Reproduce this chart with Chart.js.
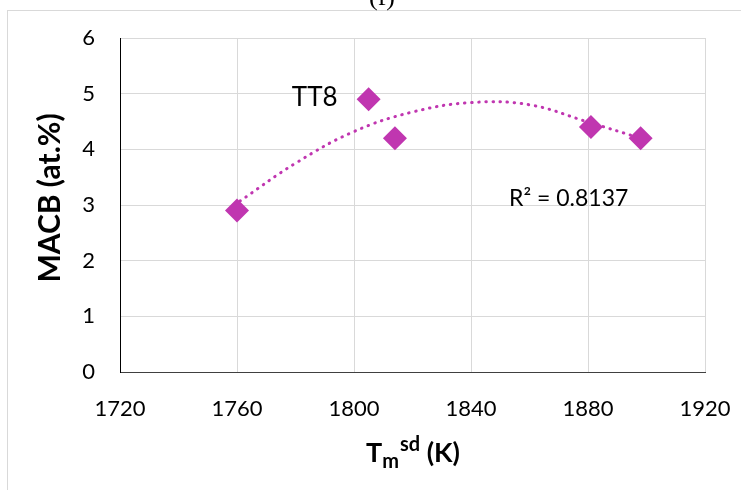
<!DOCTYPE html>
<html>
<head>
<meta charset="utf-8">
<script src="https://cdn.jsdelivr.net/npm/chart.js@4.4.1/dist/chart.umd.min.js"></script>
<style>
  html, body { margin: 0; padding: 0; background: #fff; }
  canvas { display: block; }
</style>
</head>
<body>
<canvas id="mycanvas" width="741" height="490"></canvas>
<script>
// measured points (Tm_sd in K, MACB in at.%)
var tempK = [1760, 1805, 1814, 1881, 1898];
var macb = [2.9, 4.9, 4.2, 4.4, 4.2];
// poly trendline
var trendK = [1761, 1780, 1800, 1820, 1840, 1860, 1880, 1898];
var trendMacb = [3.07, 3.75, 4.32, 4.67, 4.84, 4.80, 4.49, 4.20];
var xTicks = [1720, 1760, 1800, 1840, 1880, 1920];
var yTicks = [0, 1, 2, 3, 4, 5, 6];
var pointLabel = 'TT8';
var r2Text = 'R² = 0.8137';

var MAGENTA = '#C036B0';
var GRID = '#d9d9d9';
var FONT = 'Lato, Carlito, "Open Sans", sans-serif';

var points = [];
for (var i in tempK) points.push({x: tempK[i], y: macb[i]});
var trend = [];
for (var j in trendK) trend.push({x: trendK[j], y: trendMacb[j]});

// extra texts: frame, caption, point label, R², axis titles
var textPlugin = {
	id: 'texts',
	beforeDraw: function(chart) {
		var c = chart.ctx;
		c.save();
		c.fillStyle = '#fff';
		c.fillRect(0, 0, chart.width, chart.height);
		c.strokeStyle = GRID;
		c.lineWidth = 1;
		c.strokeRect(7.5, 10.5, 800, 600);
		c.restore();
	},
	afterDraw: function(chart) {
		var c = chart.ctx;
		var xs = chart.scales.x, ys = chart.scales.y;
		c.save();
		c.fillStyle = '#000';
		c.textBaseline = 'alphabetic';

		// cut caption at the top
		c.font = '26px "Liberation Serif", serif';
		c.textAlign = 'center';
		c.fillText('(f)', 382, 5);

		// TT8 label beside its point
		c.font = '26px ' + FONT;
		c.textAlign = 'right';
		c.fillText(pointLabel, xs.getPixelForValue(tempK[1]) - 31, ys.getPixelForValue(macb[1]) + 7);

		// R squared
		c.font = '23px ' + FONT;
		c.textAlign = 'left';
		c.fillText(r2Text, xs.getPixelForValue(1853), ys.getPixelForValue(2.98));

		// y title
		c.save();
		c.translate(50, 198);
		c.rotate(-Math.PI / 2);
		c.font = 'bold 30px ' + FONT;
		c.textAlign = 'center';
		c.textBaseline = 'middle';
		c.fillText('MACB (at.%)', 0, 0);
		c.restore();

		// x title  T_m^sd (K)
		c.textAlign = 'left';
		var x = 366;
		c.font = 'bold 27px ' + FONT;
		c.fillText('T', x, 462);
		x += c.measureText('T').width;
		c.font = 'bold 20px ' + FONT;
		c.fillText('m', x, 468);
		var xm = x + c.measureText('m').width;
		c.fillText('sd', xm + 1, 451);
		x = xm + 1 + c.measureText('sd').width;
		c.font = 'bold 27px ' + FONT;
		c.fillText(' (K)', x, 462);
		c.restore();
	}
};

var ctx = document.getElementById('mycanvas');

var chart = new Chart(ctx, {
	type: 'scatter',
	data: {
		datasets: [
			{
				label: 'MACB',
				data: points,
				pointStyle: 'rectRot',
				pointRadius: 12,
				pointHoverRadius: 12,
				backgroundColor: MAGENTA,
				borderWidth: 0,
				order: 1
			},
			{
				label: 'Poly. (MACB)',
				type: 'line',
				data: trend,
				showLine: true,
				fill: false,
				pointRadius: 0,
				borderColor: MAGENTA,
				borderWidth: 3,
				borderDash: [0.5, 6.6],
				borderCapStyle: 'round',
				tension: 0.4,
				order: 2
			}
		]
	},
	options: {
		responsive: false,
		animation: false,
		layout: { padding: { top: 38, right: 36, left: 0, bottom: 0 } },
		plugins: { legend: { display: false }, tooltip: { enabled: false } },
		scales: {
			x: {
				type: 'linear',
				min: xTicks[0],
				max: xTicks[xTicks.length - 1],
				afterBuildTicks: function(s) { s.ticks = xTicks.map(function(v){ return {value: v}; }); },
				afterFit: function(s) { s.height = 118; s.paddingLeft = 0; s.paddingRight = 0; },
				ticks: {
					autoSkip: false, maxRotation: 0, color: '#000', padding: 24,
					font: { family: FONT, size: 22 },
					callback: function(v) { return String(v); }
				},
				grid: {
					drawTicks: false,
					color: function(c) { return c.tick && c.tick.value === xTicks[0] ? 'rgba(0,0,0,0)' : GRID; }
				},
				border: { color: '#404040', width: 1 }
			},
			y: {
				min: yTicks[0],
				max: yTicks[yTicks.length - 1],
				afterBuildTicks: function(s) { s.ticks = yTicks.map(function(v){ return {value: v}; }); },
				afterFit: function(s) { s.width = 120; s.paddingTop = 0; s.paddingBottom = 0; },
				ticks: {
					color: '#000', padding: 25,
					font: { family: FONT, size: 22 },
					callback: function(v) { return String(v); }
				},
				grid: {
					drawTicks: false,
					color: function(c) { return c.tick && c.tick.value === yTicks[0] ? 'rgba(0,0,0,0)' : GRID; }
				},
				border: { color: '#000', width: 1 }
			}
		}
	},
	plugins: [textPlugin]
});
</script>
</body>
</html>
